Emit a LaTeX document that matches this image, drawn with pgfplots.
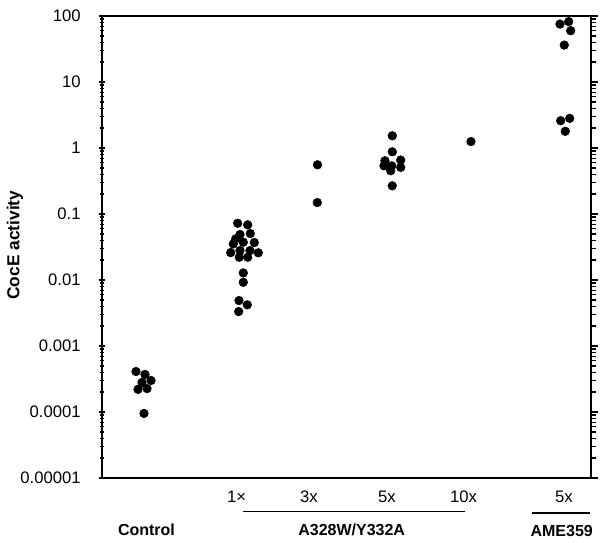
\documentclass[border=0pt]{standalone}
\usepackage{fontspec}
\setmainfont{Liberation Sans}
\usepackage{pgfplots}
\pgfplotsset{compat=1.18}

\begin{document}
\begin{tikzpicture}
% x is kept in the picture's horizontal units (columns of the dot plot)
\begin{axis}[
    scale only axis,
    width=366.75pt, height=346.5pt,
    xmin=102, xmax=591,
    ymode=log, ymin=1e-5, ymax=100,
    axis line style={line width=1.1pt},
    clip=false,
    major tick length=5pt,
    minor tick length=3.5pt,
    tick style={black, line width=1pt},
    ytick pos=left,
    tick align=center,
    log ticks with fixed point,
    yticklabel style={/pgf/number format/fixed, /pgf/number format/precision=5,
        /pgf/number format/assume math mode=true,
        font=\fontsize{12.5}{14}\selectfont, xshift=-10pt},
    xtick={236.7,309,387,463.5,564},
    xticklabels={1×,3x,5x,10x,5x},
    xtick style={draw=none},
    xticklabel style={font=\fontsize{12.5}{14}\selectfont, yshift=-4pt},
    only marks,
    mark=*,
    mark size=3.25pt,
]
% Control
\addplot[black, mark=*] coordinates {
(136,4.1e-4) (145,3.7e-4) (151,3.0e-4) (142,2.8e-4) (138,2.2e-4) (147,2.26e-4) (144,9.5e-5)
};
% A328W/Y332A 1x
\addplot[black, mark=*] coordinates {
(237.7,0.0723) (247.7,0.0684) (250.3,0.0505) (240,0.0488) (235.7,0.0420)
(243.3,0.0373) (254.3,0.0369) (233.3,0.0352) (240,0.0279) (230.7,0.0260)
(250,0.0279) (258.3,0.0258) (239.3,0.0221) (247.7,0.0221) (243.3,0.0128)
(243.3,0.00923) (239,0.00488) (247.3,0.00420) (238.7,0.00332)
};
% 3x
\addplot[black, mark=*] coordinates {(317.5,0.556) (317.3,0.149)};
% 5x
\addplot[black, mark=*] coordinates {
(392.3,1.53) (392.3,0.875) (385,0.640) (400.7,0.656) (384,0.537)
(391.7,0.537) (400.7,0.508) (390.7,0.452) (392.3,0.267)
};
% 10x
\addplot[black, mark=*] coordinates {(471,1.25)};
% AME359 5x
\addplot[black, mark=*] coordinates {
(560,75.4) (568.7,82) (570.7,59.9) (564.3,36.2) (560.7,2.59) (569.7,2.81) (565.3,1.79)
};

\node[rotate=90, font=\bfseries\fontsize{13}{15}\selectfont] at (rel axis cs:-0.178,0.504) {CocE activity};
\draw[line width=0.8pt] (rel axis cs:0.2883,-0.0729) -- (rel axis cs:0.7423,-0.0729);
\draw[line width=0.8pt] (rel axis cs:0.8787,-0.0758) -- (rel axis cs:0.998,-0.0758);
\node[font=\bfseries\fontsize{12}{14}\selectfont] at (rel axis cs:0.091,-0.1126) {Control};
\node[font=\bfseries\fontsize{12}{14}\selectfont] at (rel axis cs:0.5106,-0.1126) {A328W/Y332A};
\node[font=\bfseries\fontsize{12}{14}\selectfont] at (rel axis cs:0.9401,-0.1147) {AME359};
\draw[line width=1.1pt] (rel axis cs:1,0) -- (rel axis cs:1.012,0);
\coordinate (frameA) at (rel axis cs:-0.2086,1.0346);
\coordinate (frameB) at (rel axis cs:1.0348,-0.1407);
\end{axis}
\begin{axis}[
    scale only axis,
    width=366.75pt, height=346.5pt,
    xmin=102, xmax=591,
    ymode=log, ymin=1e-5, ymax=100,
    axis line style={line width=1.1pt},
    major tick length=5pt,
    minor tick length=3.5pt,
    tick style={black, line width=1pt},
    ytick pos=right,
    tick align=outside,
    yticklabels={},
    xtick=\empty,
]
\end{axis}
\path (frameA) rectangle (frameB);
\end{tikzpicture}
\end{document}
